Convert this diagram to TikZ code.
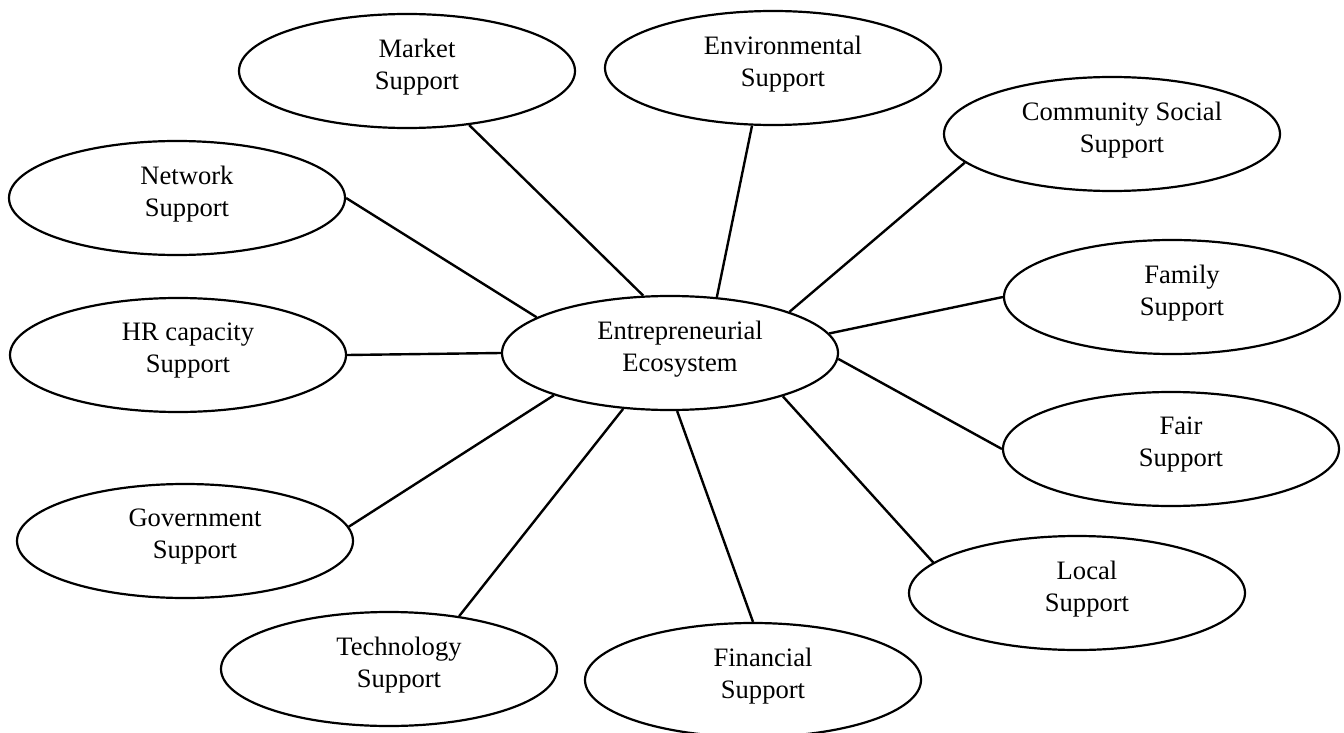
\documentclass[tikz,border=0pt]{standalone}
\usepackage{fontspec}
\setmainfont{Liberation Serif}
\usetikzlibrary{shapes.geometric}
\begin{document}
\begin{tikzpicture}[x=0.5pt,y=-0.5pt,
  bubble/.style={draw, ellipse, line width=1.1pt, minimum width=168pt, minimum height=57pt, inner sep=0pt},
  caption/.style={font=\fontsize{13.3pt}{16pt}\selectfont, align=center, inner sep=0pt},
  spoke/.style={line width=1.2pt}]
\useasboundingbox (0,0) rectangle (1344,733);

% hub
\node[bubble] (eco) at (670,353) {};
\node[caption] (eco-t) at (680,349) {Entrepreneurial\\Ecosystem};

% surrounding supports
\node[bubble] (mkt) at (407,71) {};
\node[caption] (mkt-t) at (417,67) {Market\\Support};
\node[bubble] (env) at (773,68) {};
\node[caption] (env-t) at (783,64) {Environmental\\Support};
\node[bubble] (com) at (1112,134) {};
\node[caption] (com-t) at (1122,130) {Community Social\\Support};
\node[bubble] (net) at (177,198) {};
\node[caption] (net-t) at (187,194) {Network\\Support};
\node[bubble] (fam) at (1172,297) {};
\node[caption] (fam-t) at (1182,293) {Family\\Support};
\node[bubble] (hr) at (178,355) {};
\node[caption] (hr-t) at (188,351) {HR capacity\\Support};
\node[bubble] (fair) at (1171,449) {};
\node[caption] (fair-t) at (1181,445) {Fair\\Support};
\node[bubble] (gov) at (185,541) {};
\node[caption] (gov-t) at (195,537) {Government\\Support};
\node[bubble] (loc) at (1077,593) {};
\node[caption] (loc-t) at (1087,589) {Local\\Support};
\node[bubble] (tech) at (389,669) {};
\node[caption] (tech-t) at (399,665) {Technology\\Support};
\node[bubble] (fin) at (753,680) {};
\node[caption] (fin-t) at (763,676) {Financial\\Support};

% spokes
\draw[spoke] (eco.115.6) -- (mkt.-41);
\draw[spoke] (eco.50.7) -- (env.250.5);
\draw[spoke] (eco.19.3) -- (com.191.2);
\draw[spoke] (eco.165.9) -- (net.0);
\draw[spoke] (eco.7.2) -- (fam.180);
\draw[spoke] (eco.180) -- (hr.0);
\draw[spoke] (eco.-2) -- (fair.180);
\draw[spoke] (eco.200.2) -- (gov.5);
\draw[spoke] (eco.339.8) -- (loc.168.8);
\draw[spoke] (eco.230.7) -- (tech.37);
\draw[spoke] (eco.277) -- (fin.90);
\end{tikzpicture}
\end{document}
